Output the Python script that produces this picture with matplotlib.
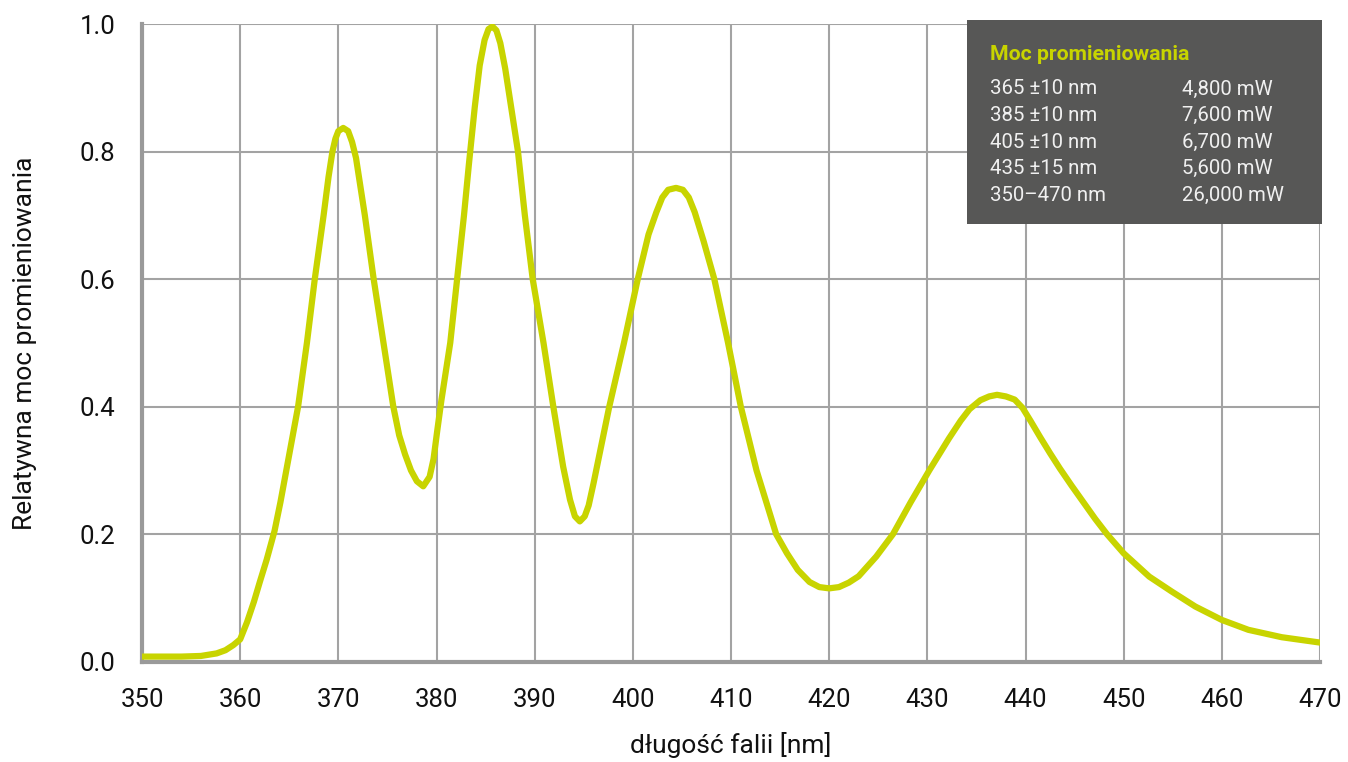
import matplotlib
matplotlib.use("Agg")
import matplotlib.pyplot as plt
from matplotlib.patches import Rectangle

plt.rcParams['font.family'] = ['Roboto', 'DejaVu Sans']

# wavelength [nm] and relative radiant power
wavelength = [350, 352, 354, 356, 357.6, 358.5, 359.3, 360, 360.7, 361.4, 362.0, 362.7, 363.5,
              364.1, 364.7, 365.3, 365.9, 366.8, 367.6, 368.5, 369.0, 369.4, 369.7, 370.0,
              370.5, 371.0, 371.4, 371.8, 372.7, 373.6, 374.6, 375.6, 376.2, 376.8, 377.4,
              378.0, 378.65, 379.3, 379.7, 380.1, 380.5, 381.4, 382.1, 382.8, 383.3, 383.9,
              384.4, 384.9, 385.3, 385.7, 386.1, 386.5, 387.0, 387.6, 388.3, 389.0, 389.8,
              390.9, 391.9, 392.9, 393.6, 394.1, 394.6, 395.1, 395.5, 396.0, 396.8, 397.6,
              399.1, 400.5, 401.6, 402.4, 403.0, 403.6, 404.4, 405.1, 405.7, 406.3, 407.2,
              408.3, 409.7, 411.0, 412.6, 414.6, 415.7, 416.8, 418.0, 419.0, 420.0, 421.0,
              422.0, 423.0, 424.8, 426.5, 428.3, 430.2, 432.2, 433.4, 434.3, 435.4, 436.3,
              437.1, 438.0, 438.9, 439.7, 440.5, 441.5, 442.5, 443.5, 444.7, 445.9, 447.1,
              448.3, 450.0, 452.6, 454.9, 457.3, 460.0, 462.7, 466.1, 470.0]
rel_power = [0.008, 0.008, 0.008, 0.009, 0.013, 0.018, 0.026, 0.035, 0.062, 0.094, 0.125, 0.16, 0.205,
             0.25, 0.30, 0.35, 0.40, 0.50, 0.60, 0.70, 0.76, 0.80, 0.82, 0.832,
             0.837, 0.832, 0.815, 0.79, 0.70, 0.60, 0.50, 0.40, 0.355, 0.325, 0.30,
             0.283, 0.275, 0.29, 0.318, 0.365, 0.41, 0.50, 0.60, 0.70, 0.78, 0.87,
             0.935, 0.975, 0.992, 0.996, 0.99, 0.97, 0.93, 0.87, 0.80, 0.70, 0.60,
             0.50, 0.40, 0.306, 0.254, 0.228, 0.22, 0.228, 0.245, 0.28, 0.34, 0.40,
             0.50, 0.60, 0.67, 0.705, 0.728, 0.740, 0.743, 0.740, 0.728, 0.705, 0.66,
             0.60, 0.50, 0.40, 0.30, 0.20, 0.17, 0.144, 0.125, 0.117, 0.115, 0.117,
             0.124, 0.134, 0.165, 0.20, 0.25, 0.30, 0.35, 0.378, 0.396, 0.41, 0.416,
             0.4185, 0.416, 0.411, 0.398, 0.378, 0.352, 0.327, 0.303, 0.276, 0.25, 0.224,
             0.20, 0.170, 0.1335, 0.110, 0.0865, 0.0655, 0.050, 0.0384, 0.030]

xticks = [350, 360, 370, 380, 390, 400, 410, 420, 430, 440, 450, 460, 470]
yticks = [0.0, 0.2, 0.4, 0.6, 0.8, 1.0]
ytick_labels = ["0.0", "0.2", "0.4", "0.6", "0.8", "1.0"]

legend_title = "Moc promieniowania"
legend_bands = ["365 ±10 nm", "385 ±10 nm", "405 ±10 nm", "435 ±15 nm", "350–470 nm"]
legend_powers = ["4,800 mW", "7,600 mW", "6,700 mW", "5,600 mW", "26,000 mW"]

LINE = "#c8d400"
GRID = "#a3a3a3"

fig = plt.figure(figsize=(13.48, 7.62), dpi=100)
ax = fig.add_axes([142 / 1348, 1 - 661.7 / 762, (1320 - 142) / 1348, (661.7 - 24) / 762])

ax.plot(wavelength, rel_power, color=LINE, lw=4.5, solid_capstyle="round",
        solid_joinstyle="round", zorder=3)

ax.set_xlim(350, 470)
ax.set_ylim(0, 1.0)
ax.set_xticks(xticks)
ax.set_yticks(yticks)
ax.set_yticklabels(ytick_labels)
ax.grid(True, color=GRID, lw=1.5, zorder=1)
ax.set_axisbelow(True)
ax.tick_params(length=0, labelsize=18.5, colors="#111111")
ax.tick_params(axis="y", pad=19)
ax.tick_params(axis="x", pad=19)
for s in ("top", "right"):
    ax.spines[s].set_visible(False)
for s in ("left", "bottom"):
    ax.spines[s].set_color("#9a9a9a")
    ax.spines[s].set_linewidth(3)
    ax.spines[s].set_zorder(2)

ax.set_ylabel("Relatywna moc promieniowania", fontsize=19, color="#111111", labelpad=31)
ax.set_xlabel("długość falii [nm]", fontsize=19, color="#111111", labelpad=14)

# info box
W, H = 1348, 762
fig.add_artist(Rectangle((967 / W, 1 - 224 / H), (1322 - 967) / W, (224 - 20) / H,
                         transform=fig.transFigure, facecolor="#575756",
                         edgecolor="none", zorder=10))
fig.text(990 / W, 1 - 54 / H, legend_title, color=LINE, fontsize=15.3, fontweight="bold",
         va="center", ha="left", zorder=11)
for i, (b, p) in enumerate(zip(legend_bands, legend_powers)):
    y = 1 - (89 + i * 26.6) / H
    fig.text(990 / W, y, b, color="#f0f0f0", fontsize=14.7, va="center", ha="left", zorder=11)
    fig.text(1182 / W, y, p, color="#f0f0f0", fontsize=14.7, va="center", ha="left", zorder=11)

fig.savefig("out.png", dpi=100)
